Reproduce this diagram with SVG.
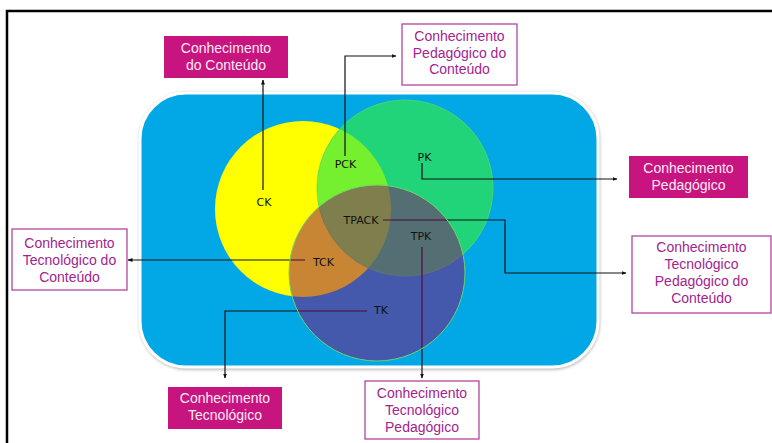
<svg xmlns="http://www.w3.org/2000/svg" width="772" height="443" viewBox="0 0 772 443">
  <style>
    .lbl { font-family: "Liberation Sans", Arial, sans-serif; font-size: 14px; text-anchor: middle; }
    .solid rect { fill: #C8147F; }
    .solid text { fill: #FBEAF5; }
    .open rect { fill: #FFFFFF; stroke: #B4449E; stroke-width: 1.3; }
    .open text { fill: #A2248F; }
    .conn { fill: none; stroke: #111; stroke-width: 1.2; }
    .vlbl { font-family: "DejaVu Sans", Verdana, sans-serif; font-size: 11px; fill: #111; text-anchor: middle; }
  </style>
  <defs>
    <marker id="arr" viewBox="0 0 10 10" refX="9" refY="5" markerWidth="5" markerHeight="5" orient="auto" markerUnits="userSpaceOnUse">
      <path d="M0,1 L10,5 L0,9 Z" fill="#111"/>
    </marker>
    <filter id="sh" x="-5%" y="-5%" width="110%" height="110%">
      <feGaussianBlur stdDeviation="1.5"/>
    </filter>
  </defs>

  <rect width="772" height="443" fill="#FFFFFF"/>
  <path d="M7,443 V11 H772" fill="none" stroke="#000" stroke-width="2.5"/>

  <g id="background">
    <rect x="139" y="92" width="461" height="278" rx="48" fill="#BDBDBD" filter="url(#sh)"/>
    <rect x="140" y="93" width="458" height="274" rx="46" fill="#02A8E5" stroke="#FFFFFF" stroke-width="3"/>
  </g>

  <g id="circle-ck"><circle cx="303" cy="209" r="88" fill="#FFFF00"/></g>
  <g id="circle-pk"><circle cx="405" cy="188" r="88" fill="rgb(50,233,70)" fill-opacity="0.68" stroke="#52D86A" stroke-width="0.8"/></g>

  <g id="connectors">
    <path class="conn" d="M263,190 V80" marker-end="url(#arr)"/>
    <path class="conn" d="M345,156 V56 H396" marker-end="url(#arr)"/>
    <path class="conn" d="M422,163 V179 H617" marker-end="url(#arr)"/>
    <path class="conn" d="M383,220 H505 V273 H626" marker-end="url(#arr)"/>
    <path class="conn" d="M422,247 V378" marker-end="url(#arr)"/>
    <path class="conn" d="M305,260 H128" marker-end="url(#arr)"/>
    <path class="conn" d="M367,311 H225 V378" marker-end="url(#arr)"/>
  </g>

  <g id="circle-tk"><circle cx="377" cy="273" r="88" fill="rgb(140,2,111)" fill-opacity="0.48" stroke="#6CD46A" stroke-width="1"/></g>

  <g id="labels">
    <text class="vlbl" x="264" y="206">CK</text>
    <text class="vlbl" x="345.5" y="168">PCK</text>
    <text class="vlbl" x="424.5" y="161">PK</text>
    <text class="vlbl" x="361" y="224">TPACK</text>
    <text class="vlbl" x="421" y="240">TPK</text>
    <text class="vlbl" x="323.5" y="266">TCK</text>
    <text class="vlbl" x="381" y="314">TK</text>
  </g>

  <g id="node-cc" class="solid">
    <rect x="164" y="36" width="124" height="42"/>
    <text class="lbl" x="226" y="53">Conhecimento</text>
    <text class="lbl" x="226" y="70">do Conteúdo</text>
  </g>
  <g id="node-cpc" class="open">
    <rect x="402" y="24" width="115" height="61"/>
    <text class="lbl" x="459.5" y="41">Conhecimento</text>
    <text class="lbl" x="459.5" y="57.5">Pedagógico do</text>
    <text class="lbl" x="459.5" y="74">Conteúdo</text>
  </g>
  <g id="node-cp" class="solid">
    <rect x="629" y="156" width="119" height="42"/>
    <text class="lbl" x="688.5" y="173">Conhecimento</text>
    <text class="lbl" x="688.5" y="189.5">Pedagógico</text>
  </g>
  <g id="node-ctpc" class="open">
    <rect x="632" y="236" width="139" height="77"/>
    <text class="lbl" x="701.5" y="252">Conhecimento</text>
    <text class="lbl" x="701.5" y="268.5">Tecnológico</text>
    <text class="lbl" x="701.5" y="285.5">Pedagógico do</text>
    <text class="lbl" x="701.5" y="302.5">Conteúdo</text>
  </g>
  <g id="node-ctc" class="open">
    <rect x="12" y="229" width="115" height="61"/>
    <text class="lbl" x="69.5" y="248">Conhecimento</text>
    <text class="lbl" x="69.5" y="265">Tecnológico do</text>
    <text class="lbl" x="69.5" y="282">Conteúdo</text>
  </g>
  <g id="node-ct" class="solid">
    <rect x="168" y="387" width="114" height="42"/>
    <text class="lbl" x="225" y="403">Conhecimento</text>
    <text class="lbl" x="225" y="420">Tecnológico</text>
  </g>
  <g id="node-ctp" class="open">
    <rect x="365" y="381" width="114" height="58"/>
    <text class="lbl" x="422" y="398">Conhecimento</text>
    <text class="lbl" x="422" y="415">Tecnológico</text>
    <text class="lbl" x="422" y="432">Pedagógico</text>
  </g>
</svg>
